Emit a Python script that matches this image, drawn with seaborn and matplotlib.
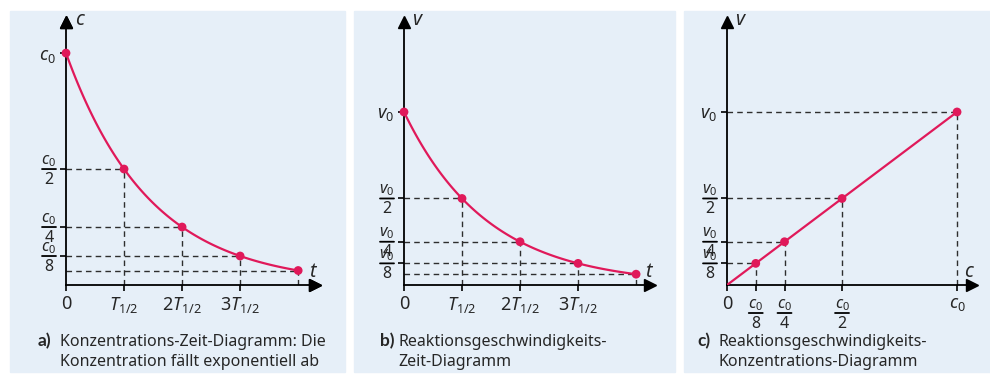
import numpy as np
import pandas as pd
import matplotlib
matplotlib.use("Agg")
import matplotlib.pyplot as plt
from matplotlib.patches import Rectangle
from matplotlib.transforms import offset_copy
import seaborn as sns

# ================= data =================
# panel a: concentration vs time (in half-lives)
t_halves = [0, 1, 2, 3, 4]
conc = [1.0, 0.5, 0.25, 0.125, 0.0625]
# panel b: rate vs time
rate_t = [1.0, 0.5, 0.25, 0.125, 0.0625]
# panel c: rate vs concentration
conc_c = [0.125, 0.25, 0.5, 1.0]
rate_c = [0.125, 0.25, 0.5, 1.0]

t_ticks = [0, 1, 2, 3]
t_labels = ["0", r"$T_{1/2}$", r"$2T_{1/2}$", r"$3T_{1/2}$"]
frac_ticks = [1.0, 0.5, 0.25, 0.125]
frac_dens = ["", "2", "4", "8"]
cx_ticks = [0, 0.125, 0.25, 0.5, 1.0]
cx_dens = ["", "8", "4", "2", ""]
cx_labels = ["0", "", "", "", r"$c_0$"]

captions = [
    ("a)", "Konzentrations-Zeit-Diagramm: Die\nKonzentration fällt exponentiell ab"),
    ("b)", "Reaktionsgeschwindigkeits-\nZeit-Diagramm"),
    ("c)", "Reaktionsgeschwindigkeits-\nKonzentrations-Diagramm"),
]

# ================= style =================
sns.set_style("ticks")
plt.rcParams["font.family"] = ["Noto Sans", "DejaVu Sans"]
plt.rcParams["mathtext.fontset"] = "custom"
plt.rcParams["mathtext.rm"] = "Noto Sans"
plt.rcParams["mathtext.it"] = "Noto Sans:italic"
plt.rcParams["mathtext.bf"] = "Noto Sans:bold"

BG = "#e6eff8"
RED = "#e0195a"
DASH = "#2e2e2e"
FS = 13
W, H = 990, 374

fig = plt.figure(figsize=(W / 100, H / 100), dpi=100)
fig.patch.set_facecolor("white")


def ftext(x, y, s, **kw):
    fig.text(x / W, 1 - y / H, s, **kw)


def px_axes(left, bottom, right, top):
    return fig.add_axes([left / W, 1 - bottom / H, (right - left) / W, (bottom - top) / H])


for x0, x1 in [(10, 345), (354, 675), (684, 990)]:
    fig.add_artist(Rectangle((x0 / W, 1 - 372 / H), (x1 - x0) / W, (372 - 11) / H,
                             transform=fig.transFigure, color=BG, zorder=0))


def style_axes(ax, xmax, ymax):
    ax.set_facecolor("none")
    ax.set_xlim(0, xmax)
    ax.set_ylim(0, ymax)
    sns.despine(ax=ax)
    for s in ["left", "bottom"]:
        ax.spines[s].set_linewidth(1.3)
        ax.spines[s].set_color("black")
    ax.plot(1, 0, marker=">", color="k", ms=8, transform=ax.get_yaxis_transform(), clip_on=False)
    ax.plot(0, 1, marker="^", color="k", ms=8, transform=ax.get_xaxis_transform(), clip_on=False)
    ax.tick_params(length=4.5, width=1.2, color="k", labelsize=FS, pad=3)
    ax.set_xlabel("")
    ax.set_ylabel("")


def guides(ax, xs, ys):
    for x, y in zip(xs, ys):
        ax.plot([0, x], [y, y], ls=(0, (4, 3)), color=DASH, lw=1, zorder=1)
        ax.plot([x, x], [0, y], ls=(0, (4, 3)), color=DASH, lw=1, zorder=1)


def frac(ax, xy, num, den, dx, dy):
    # stacked fraction num/den, bar centred at offset (dx, dy) pixels from data point xy
    kw = dict(xycoords="data", textcoords="offset pixels", ha="center", va="baseline",
              fontsize=11.5, annotation_clip=False)
    ax.annotate(num, xy=xy, xytext=(dx, dy + 5), **kw)
    ax.annotate(den, xy=xy, xytext=(dx, dy - 14.5), **kw)
    start = offset_copy(ax.transData, fig=fig, x=dx - 7, y=dy, units="dots")
    ax.annotate("", xy=xy, xycoords=start, xytext=(14, 0), textcoords="offset pixels",
                annotation_clip=False,
                arrowprops=dict(arrowstyle="-", lw=1.3, color="k", shrinkA=0, shrinkB=0))


def y_fracs(ax, sym):
    labels = []
    for y, den in zip(frac_ticks, frac_dens):
        if den:
            frac(ax, (0, y), rf"${sym}_0$", den, -17, 0)
            labels.append("")
        else:
            labels.append(rf"${sym}_0$")
    ax.set_yticks(frac_ticks, labels)


def smooth_curve(xs, ys):
    # connect the read points by geometric segments (halving curve)
    fx, fy = [], []
    for i in range(len(xs) - 1):
        fx.extend(np.linspace(xs[i], xs[i + 1], 30))
        fy.extend(np.geomspace(ys[i], ys[i + 1], 30))
    return pd.DataFrame({"x": fx, "y": fy})


# ---------- panel a ----------
ax = px_axes(66, 285, 315, 22)
style_axes(ax, 4.29, 1.134)
guides(ax, t_halves[1:], conc[1:])
d = smooth_curve(t_halves, conc)
sns.lineplot(data=d, x="x", y="y", ax=ax, color=RED, lw=1.6, sort=False, estimator=None, zorder=3)
sns.scatterplot(x=t_halves, y=conc, ax=ax, color=RED, s=40, edgecolor="none", zorder=4, clip_on=False)
ax.set_xticks(t_ticks, t_labels)
y_fracs(ax, "c")
style_axes(ax, 4.29, 1.134)
ftext(75, 20, "c", fontsize=14, style="italic", va="center")
ftext(312, 272, "t", fontsize=14, style="italic", va="center", ha="center")

# ---------- panel b ----------
ax = px_axes(404, 285, 650, 22)
d = smooth_curve(t_halves, rate_t)
guides(ax, t_halves[1:], rate_t[1:])
sns.lineplot(data=d, x="x", y="y", ax=ax, color=RED, lw=1.6, sort=False, estimator=None, zorder=3)
sns.scatterplot(x=t_halves, y=rate_t, ax=ax, color=RED, s=40, edgecolor="none", zorder=4, clip_on=False)
ax.set_xticks(t_ticks, t_labels)
y_fracs(ax, "v")
style_axes(ax, 4.24, 1.52)
ftext(412, 20, "v", fontsize=14, style="italic", va="center")
ftext(648, 272, "t", fontsize=14, style="italic", va="center", ha="center")

# ---------- panel c ----------
ax = px_axes(727, 285, 972, 22)
guides(ax, conc_c, rate_c)
sns.lineplot(x=[0] + conc_c, y=[0] + rate_c, ax=ax, color=RED, lw=1.6, sort=False, estimator=None, zorder=3)
sns.scatterplot(x=conc_c, y=rate_c, ax=ax, color=RED, s=40, edgecolor="none", zorder=4, clip_on=False)
ax.set_xticks(cx_ticks, cx_labels)
for x, den in zip(cx_ticks, cx_dens):
    if den:
        frac(ax, (x, 0), r"$c_0$", den, 0, -28)
y_fracs(ax, "v")
style_axes(ax, 1.065, 1.52)
ftext(735, 20, "v", fontsize=14, style="italic", va="center")
ftext(968, 272, "c", fontsize=14, style="italic", va="center", ha="center")

# ---------- captions ----------
for (tag, txt), xt, xb in zip(captions, [38, 380, 697], [60, 398, 718]):
    ftext(xt, 341, tag, fontsize=12.5, family=["Lato", "DejaVu Sans"], fontweight="bold", va="center")
    ftext(xb, 352, txt, fontsize=11.5, va="center", linespacing=1.25)

fig.savefig("out.png", dpi=100, facecolor="white")
